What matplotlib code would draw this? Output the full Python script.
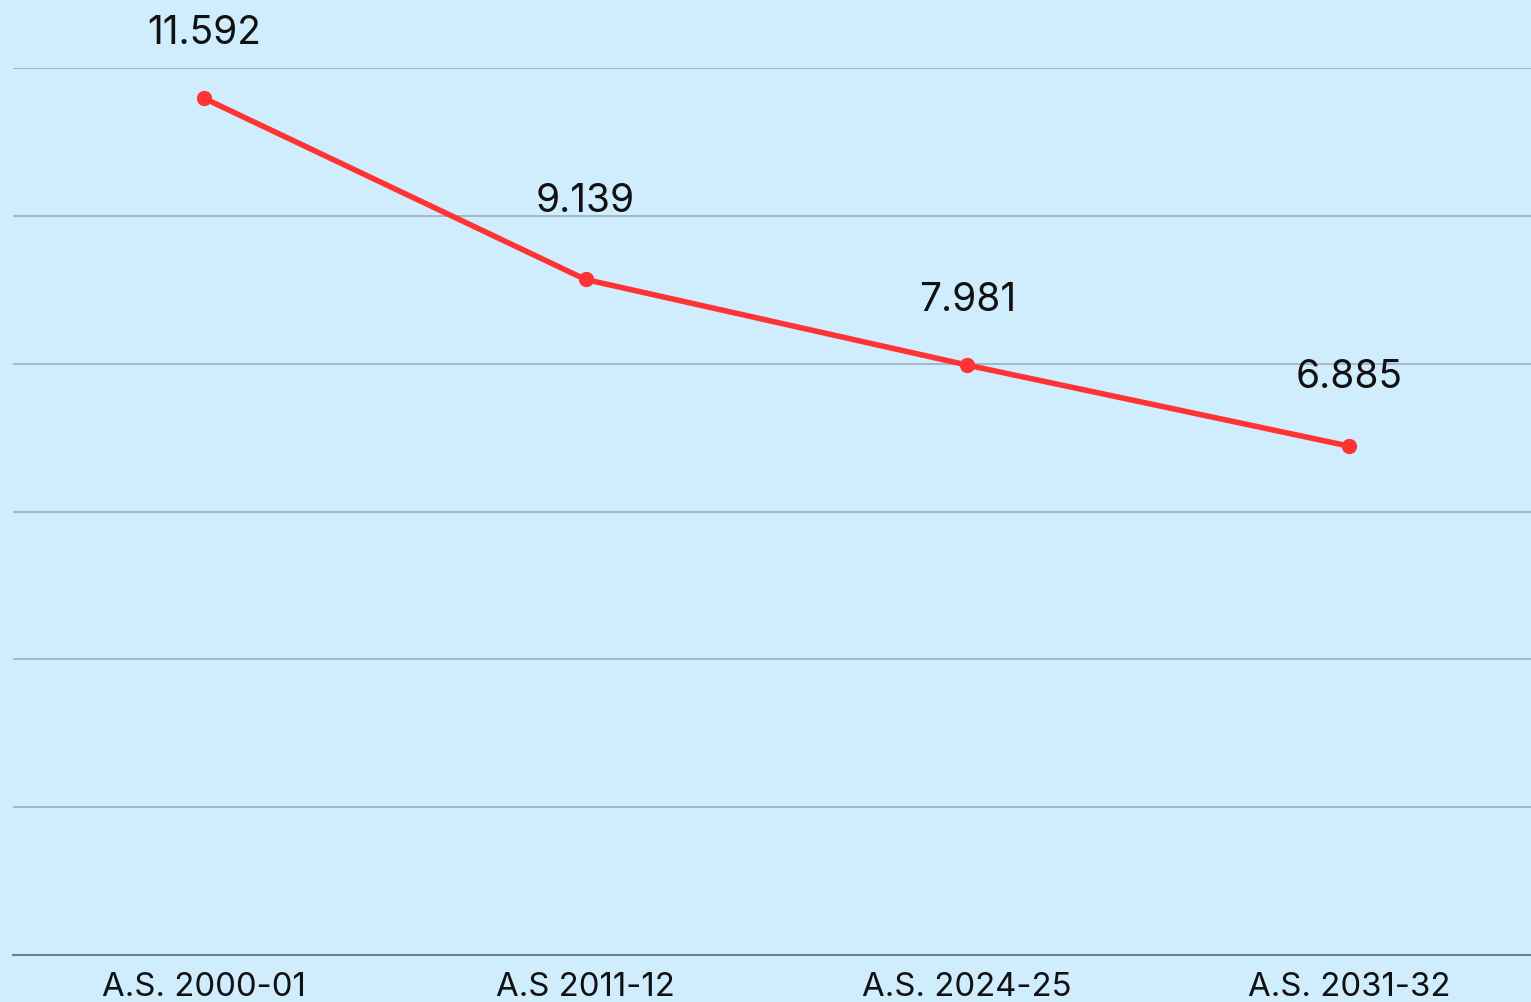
import matplotlib.pyplot as plt

# Data
years = ['A.S. 2000-01', 'A.S 2011-12', 'A.S. 2024-25', 'A.S. 2031-32']
values = [11.592, 9.139, 7.981, 6.885]
labels = ['11.592', '9.139', '7.981', '6.885']

plt.rcParams['font.family'] = ['Inter', 'DejaVu Sans']

bg = '#D0EDFD'
fig = plt.figure(figsize=(15.31, 10.02), dpi=100, facecolor=bg)
ax = fig.add_axes([13/1531, 47/1002, 1 - 13/1531, (955 - 68)/1002])
ax.set_facecolor(bg)

x = list(range(len(years)))
ax.plot(x, values, color='#FF3333', linewidth=4, marker='o', markersize=10,
        solid_capstyle='round', zorder=3)

# value labels above each point (offset in pixels)
dys = [65, 78, 65, 69]
for xi, v, lab, dy in zip(x, values, labels, dys):
    ax.annotate(lab, (xi, v), xytext=(0, dy * 0.72), textcoords='offset points',
                ha='center', va='center', fontsize=28, color='#111111',
                annotation_clip=False)

ax.set_xlim(-0.5, 3.477)
ax.set_ylim(0, 12)
ax.set_yticks(range(0, 13, 2))
ax.yaxis.grid(True, color='#9DB4C4', linewidth=1.3)
ax.set_axisbelow(True)
ax.tick_params(axis='y', left=False, labelleft=False)
ax.set_xticks(x)
ax.set_xticklabels(years, fontsize=23.7, color='#111111')
ax.tick_params(axis='x', length=0, pad=12)

for s in ['top', 'right', 'left']:
    ax.spines[s].set_visible(False)
ax.spines['bottom'].set_color('#6F7F8A')
ax.spines['bottom'].set_linewidth(1.5)

fig.savefig('out.png', dpi=100, facecolor=bg)
